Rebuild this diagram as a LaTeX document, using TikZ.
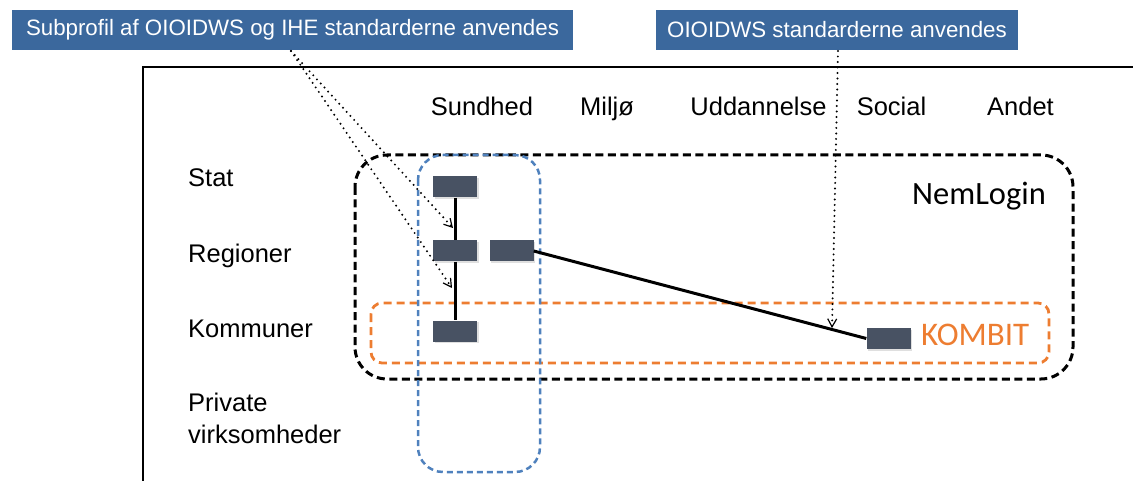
\documentclass[tikz,border=0pt]{standalone}
\usepackage{fontspec}
\setmainfont{Liberation Sans}
\newfontfamily\calibrifont{Carlito}
\usetikzlibrary{arrows.meta, shadows}
\definecolor{calloutblue}{RGB}{59,104,157}
\definecolor{boxgray}{RGB}{72,82,99}
\definecolor{frameblue}{RGB}{79,129,189}
\definecolor{kombitorange}{RGB}{237,125,49}

\begin{document}
\begin{tikzpicture}[x=1pt, y=-1pt,
    callout/.style={fill=calloutblue, text=white, inner sep=0pt, minimum height=40pt,
      font=\fontsize{22.3}{26}\selectfont},
    lbl/.style={inner sep=0pt, font=\fontsize{25.5}{32}\selectfont},
    systembox/.style={fill=boxgray, minimum width=44pt, minimum height=21pt, inner sep=0pt,
      drop shadow={shadow xshift=1.5pt, shadow yshift=-1.5pt, opacity=0.25}},
    pointer/.style={dash pattern=on 0pt off 5.5pt, line cap=round, line width=2.2pt,
      -{Straight Barb[length=8pt, width=9pt, line width=1.2pt]}}]
        \useasboundingbox (0, 0) rectangle (1133, 481);
        % outer frame
        \draw[line width=2.2pt] (143, 482) -- (143, 67) -- (1134, 67);
        % groups
        \draw[line width=3pt, dash pattern=on 8pt off 4.5pt, rounded corners=32pt] (355, 155) rectangle (1073, 379);
        \draw[kombitorange, line width=2.8pt, dash pattern=on 8pt off 5pt, rounded corners=11pt] (371, 303) rectangle (1049, 363);
        \draw[frameblue, line width=2.5pt, dash pattern=on 6pt off 4pt, rounded corners=25pt] (418, 155) rectangle (540, 472);
        % callouts
        \node[callout, minimum width=561pt] (subprofil) at (292.5, 30) {Subprofil af OIOIDWS og IHE standarderne anvendes};
        \node[callout, minimum width=362pt] (oioidws) at (837, 30) {OIOIDWS standarderne anvendes};
        % columns
        \node[lbl, anchor=base] (sundhed) at (482, 116) {Sundhed};
        \node[lbl, anchor=base] (miljo) at (607, 116) {Miljø};
        \node[lbl, anchor=base] (uddannelse) at (758.5, 116) {Uddannelse};
        \node[lbl, anchor=base] (social) at (891.5, 116) {Social};
        \node[lbl, anchor=base] (andet) at (1020.5, 116) {Andet};
        % rows
        \node[lbl, anchor=base west] (stat) at (188, 187) {Stat};
        \node[lbl, anchor=base west] (regioner) at (188, 262) {Regioner};
        \node[lbl, anchor=base west] (kommuner) at (188, 337) {Kommuner};
        \node[lbl, anchor=base west, align=left] (private) at (188, 443) {Private\\virksomheder};
        % group names
        \node[inner sep=0pt, anchor=base, font=\calibrifont\fontsize{32.5}{36}\selectfont] (nemlogin) at (979, 205) {NemLogin};
        \node[inner sep=0pt, anchor=base west, text=kombitorange, font=\calibrifont\fontsize{33}{36}\selectfont] (kombitname) at (921, 345) {KOMBIT};
        % systems
        \node[systembox] (sundStat) at (455, 187) {};
        \node[systembox] (sundReg) at (455, 251) {};
        \node[systembox] (regExtra) at (511.5, 251) {};
        \node[systembox] (sundKom) at (455, 331) {};
        \node[systembox] (kombit) at (888.5, 338.5) {};
        \draw[line width=3pt] (sundStat) -- (sundReg);
        \draw[line width=3pt] (sundReg) -- (sundKom);
        \draw[line width=3pt] (regExtra.east) -- (kombit.west);
        % pointers
        \coordinate (srcSub) at (291, 51);
        \coordinate (tipStat) at (453, 228);
        \coordinate (tipReg) at (452, 288);
        \coordinate (srcOio) at (838, 51);
        \coordinate (tipKombit) at (832, 328);
        \draw[pointer] (srcSub) -- (tipStat);
        \draw[pointer] (srcSub) -- (tipReg);
        \draw[pointer] (srcOio) -- (tipKombit);
\end{tikzpicture}
\end{document}
